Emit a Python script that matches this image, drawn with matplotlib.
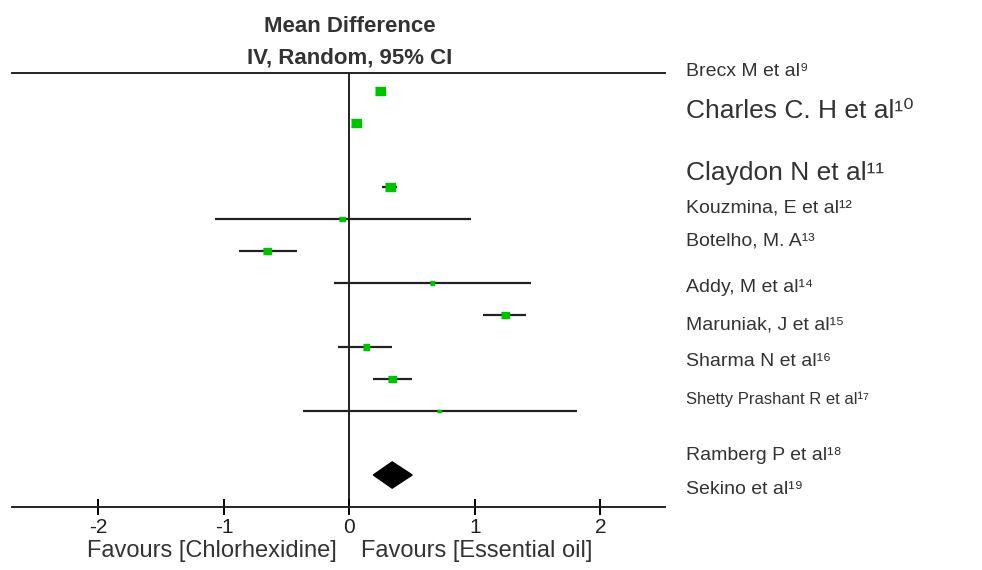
import numpy as np
import matplotlib.pyplot as plt
from matplotlib.patches import Polygon
import matplotlib.transforms as mtransforms

# studies drawn in the plot (row index counts from the top line)
rows = [0, 1, 3, 4, 5, 6, 7, 8, 9, 10]
mean_diff = [0.24, 0.05, 0.32, -0.06, -0.66, 0.66, 1.24, 0.13, 0.34, 0.71]
ci_low = [0.22, 0.03, 0.26, -1.07, -0.88, -0.12, 1.06, -0.09, 0.19, -0.37]
ci_high = [0.26, 0.07, 0.38, 0.97, -0.42, 1.45, 1.41, 0.34, 0.50, 1.81]
weight = [14.9, 16.6, 14.9, 4.6, 11.8, 3.7, 11.8, 7.7, 11.8, 2.2]

# pooled estimate
pooled_row = 12
pooled_mean, pooled_low, pooled_high = 0.34, 0.19, 0.50

# labels on the right, as laid out in the picture
labels = ["Brecx M et al\u2079", "Charles C. H et al\u00b9\u2070", "Claydon N et al\u00b9\u00b9",
          "Kouzmina, E et al\u00b9\u00b2", "Botelho, M. A\u00b9\u00b3", "Addy, M et al\u00b9\u2074",
          "Maruniak, J et al\u00b9\u2075", "Sharma N et al\u00b9\u2076", "Shetty Prashant R et al\u00b9\u2077",
          "Ramberg P et al\u00b9\u2078", "Sekino et al\u00b9\u2079"]
label_y = [72, 111, 173, 208, 241, 287, 325, 362, 399, 455, 490]
label_size = [14, 19, 19, 14, 14, 14, 14, 14, 12, 14, 14]

ticks = [-2, -1, 0, 1, 2]
tick_labels = ["-2", "-1", "0", "1", "2"]

W, H = 982, 570
fig = plt.figure(figsize=(W / 100, H / 100), dpi=100)
ax = fig.add_axes([12 / W, (H - 507) / H, 653 / W, (507 - 73) / H])

sans = ['Liberation Sans', 'DejaVu Sans']
txt_col = '#333333'

for r, m, lo, hi, w in zip(rows, mean_diff, ci_low, ci_high, weight):
    ax.plot([lo, hi], [r, r], color='#222222', lw=1.6, solid_capstyle='butt', zorder=2)
    side = 2.4 * np.sqrt(w) * 72 / 100
    ax.plot(m, r, marker=[(-1, -0.8), (1, -0.8), (1, 0.8), (-1, 0.8)], ms=side,
            color='#00c000', mec='#00c000', zorder=3)

dh = 0.41
ax.add_patch(Polygon([(pooled_low, pooled_row), (pooled_mean, pooled_row - dh),
                      (pooled_high, pooled_row), (pooled_mean, pooled_row + dh)],
                     closed=True, color='black', zorder=3))

ax.axvline(0, color='#222222', lw=1.4, zorder=1)
ax.set_xlim(-2.689, 2.514)
ax.set_ylim(13, -0.5625)
ax.set_yticks([])
ax.set_xticks(ticks)
ax.set_xticklabels(tick_labels, family=sans, fontsize=15, color='#222222')
ax.tick_params(axis='x', direction='inout', length=12, width=1.4, pad=2)
for s in ['left', 'right']:
    ax.spines[s].set_visible(False)
for s in ['top', 'bottom']:
    ax.spines[s].set_linewidth(1.4)
    ax.spines[s].set_color('#222222')

trans = mtransforms.blended_transform_factory(ax.transData, fig.transFigure)
ax.text(0, 1 - 26 / H, "Mean Difference", transform=trans, ha='center', va='center',
        family=sans, fontweight='bold', fontsize=16, color=txt_col)
ax.text(0, 1 - 58 / H, "IV, Random, 95% CI", transform=trans, ha='center', va='center',
        family=sans, fontweight='bold', fontsize=16, color=txt_col)
ax.text(-0.1, 1 - 551 / H, "Favours [Chlorhexidine]", transform=trans, ha='right', va='center',
        family=sans, fontsize=17, color=txt_col)
ax.text(0.09, 1 - 551 / H, "Favours [Essential oil]", transform=trans, ha='left', va='center',
        family=sans, fontsize=17, color=txt_col)

for lab, y, fs in zip(labels, label_y, label_size):
    fig.text(686 / W, 1 - y / H, lab, ha='left', va='center', family=sans,
             fontsize=fs, color=txt_col)

fig.savefig("out.png", dpi=100)
